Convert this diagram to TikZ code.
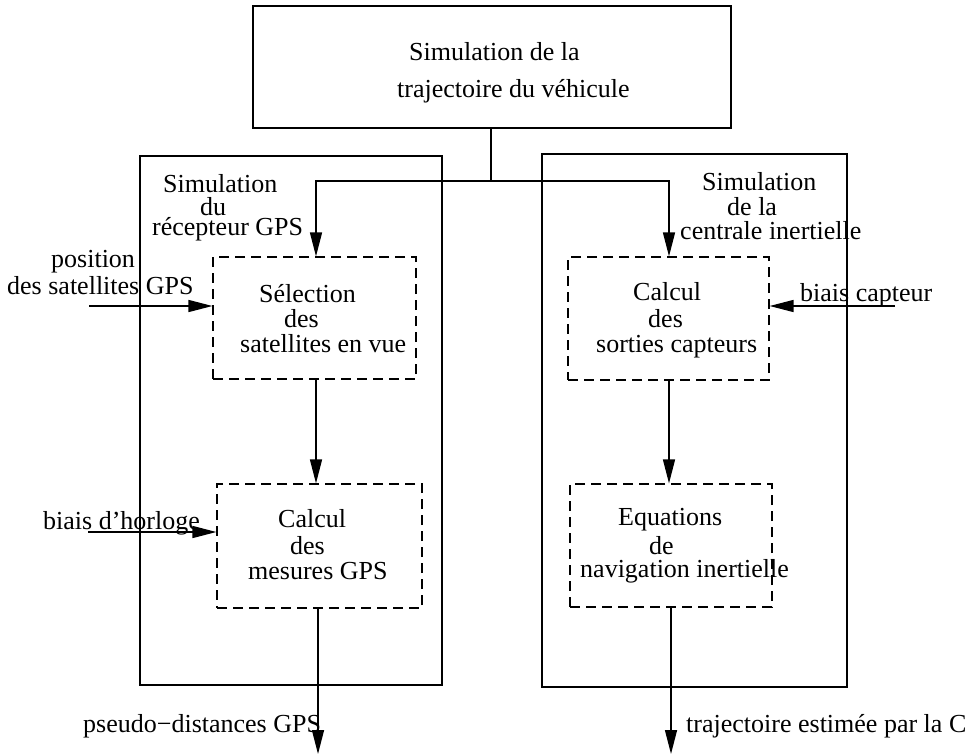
\documentclass[tikz,border=0pt]{standalone}
\usepackage{fontspec}
\setmainfont{Liberation Serif}
\usetikzlibrary{arrows.meta,calc}
\begin{document}
\begin{tikzpicture}[x=1pt,y=-1pt,
  solidbox/.style={draw,line width=1.3pt,rectangle,inner sep=0pt},
  dashbox/.style={draw,line width=1.2pt,rectangle,inner sep=0pt,dash pattern=on 10pt off 6pt},
  lbl/.style={anchor=base west,inner sep=0pt,font=\fontsize{26}{26}\selectfont},
  flow/.style={line width=1.4pt,-{Triangle[length=24pt,width=12pt]}},
  plain/.style={line width=1.4pt}]
\useasboundingbox (0,0) rectangle (966,755);
% boxes
\node[solidbox,minimum width=478pt,minimum height=122pt] (top) at (492,67) {};
\node[solidbox,minimum width=302pt,minimum height=529pt] (lout) at (291,420.5) {};
\node[solidbox,minimum width=305pt,minimum height=533pt] (rout) at (694.5,420.5) {};
\node[dashbox,minimum width=203pt,minimum height=122pt] (sel) at (314.5,318) {};
\node[dashbox,minimum width=201pt,minimum height=123pt] (cs) at (668.5,318.5) {};
\node[dashbox,minimum width=205pt,minimum height=124pt] (cm) at (319.5,546) {};
\node[dashbox,minimum width=202pt,minimum height=123pt] (eq) at (671,545.5) {};
% texts
\node[lbl] (t1) at (409,60) {Simulation de la};
\node[lbl] (t2) at (397,97) {trajectoire du véhicule};
\node[lbl] (l1) at (163,192) {Simulation};
\node[lbl] (l2) at (200,215) {du};
\node[lbl] (l3) at (152,235) {récepteur GPS};
\node[lbl] (p1) at (51,267) {position};
\node[lbl] (p2) at (7,294) {des satellites GPS};
\node[lbl] (s1) at (259,302) {Sélection};
\node[lbl] (s2) at (284,327) {des};
\node[lbl] (s3) at (240,352) {satellites en vue};
\node[lbl] (r1) at (702,190) {Simulation};
\node[lbl] (r2) at (727,215) {de la};
\node[lbl] (r3) at (680,239) {centrale inertielle};
\node[lbl] (c1) at (633,300) {Calcul};
\node[lbl] (c2) at (648,327) {des};
\node[lbl] (c3) at (596,352) {sorties capteurs};
\node[lbl] (bc) at (800,301) {biais capteur};
\node[lbl] (bh) at (43,529) {biais d’horloge};
\node[lbl] (m1) at (278,527) {Calcul};
\node[lbl] (m2) at (290,554) {des};
\node[lbl] (m3) at (248,579) {mesures GPS};
\node[lbl] (e1) at (618,525) {Equations};
\node[lbl] (e2) at (649,554) {de};
\node[lbl] (e3) at (580,577) {navigation inertielle};
\node[lbl] (o1) at (83,732) {pseudo−distances GPS};
\node[lbl] (o2) at (686,732) {trajectoire estimée par la CI};
% coordinates
\coordinate (j) at (491,181);
\coordinate (ax1) at (316,0);
\coordinate (ax2) at (669,0);
\coordinate (pin) at (89,306);
\coordinate (bcin) at (895,306);
\coordinate (bhin) at (88,532);
\coordinate (outl) at (318,754);
\coordinate (outr) at (671,754);
% connectors
\draw[plain] (top.south -| j) -- (j);
\draw[flow] (j) -| (ax1 |- sel.north);
\draw[flow] (j) -| (ax2 |- cs.north);
\draw[flow] (ax1 |- sel.south) -- (ax1 |- cm.north);
\draw[flow] (ax2 |- cs.south) -- (ax2 |- eq.north);
\draw[flow] (cm.south -| outl) -- (outl);
\draw[flow] (eq.south -| outr) -- (outr);
\draw[flow] (pin) -- (pin -| sel.west);
\draw[flow] (bcin) -- (bcin -| cs.east);
\draw[flow] (bhin) -- (bhin -| cm.west);
\end{tikzpicture}
\end{document}
